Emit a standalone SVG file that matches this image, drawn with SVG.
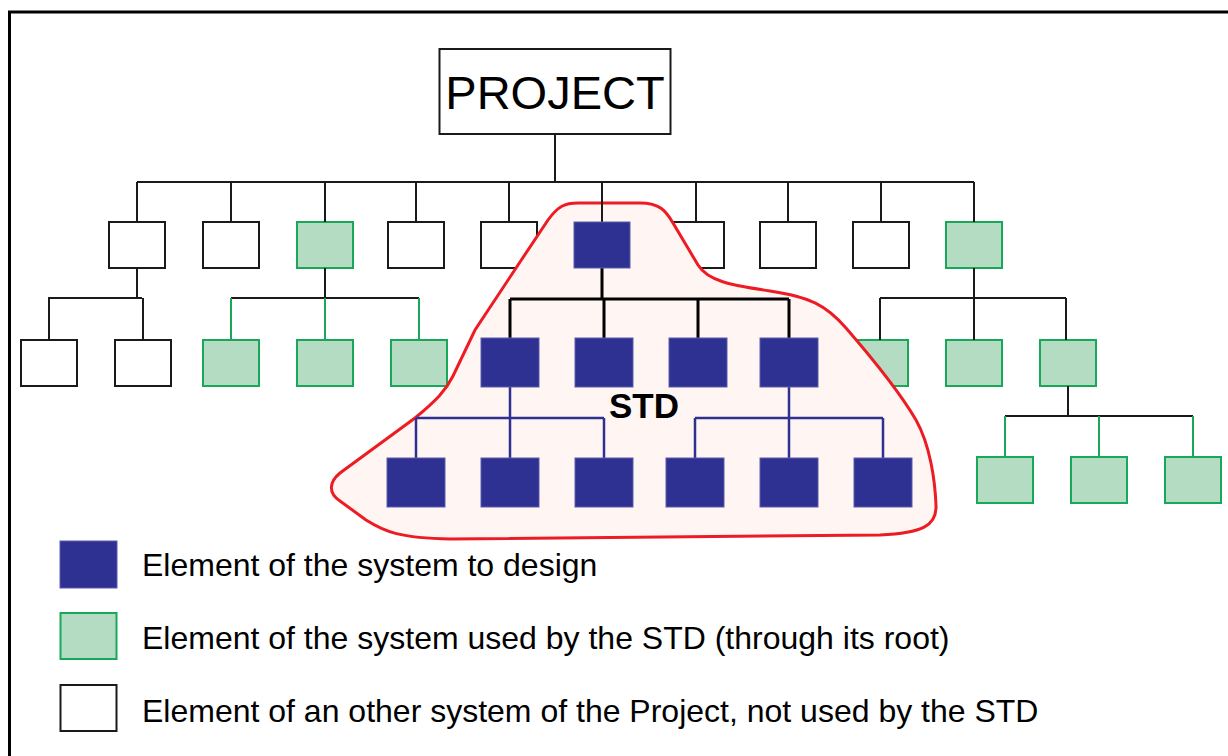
<svg xmlns="http://www.w3.org/2000/svg" width="1228" height="756" viewBox="0 0 1228 756">
  <style>
    .other { fill: #ffffff; stroke: #1a1a1a; stroke-width: 2; }
    .used { fill: #b4dcc2; stroke: #19a85a; stroke-width: 2; }
    .std { fill: #2e3192; stroke: #5a5cab; stroke-width: 1; }
    .wire { fill: none; stroke: #1a1a1a; stroke-width: 2; }
    .wire-thick { fill: none; stroke: #000000; stroke-width: 3; }
    .wire-green { fill: none; stroke: #19a85a; stroke-width: 2; }
    .wire-blue { fill: none; stroke: #2e3192; stroke-width: 2.5; }
    .label { font-family: "Liberation Sans", Arial, sans-serif; fill: #000000; }
  </style>

  <rect width="1228" height="756" fill="#ffffff"/>
  <!-- page frame -->
  <rect x="9.5" y="12" width="1400" height="900" fill="none" stroke="#000000" stroke-width="3"/>

  <!-- root -->
  <g id="project">
    <rect x="439.5" y="49" width="231" height="85" fill="#ffffff" stroke="#1a1a1a" stroke-width="2"/>
    <text class="label" x="555" y="109" font-size="47" text-anchor="middle">PROJECT</text>
  </g>

  <!-- level 1 elements outside the STD -->
  <g id="l1-1"><rect class="other" x="109" y="222" width="56" height="46"/></g>
  <g id="l1-2"><rect class="other" x="203" y="222" width="56" height="46"/></g>
  <g id="l1-3"><rect class="used" x="297" y="222" width="56" height="46"/></g>
  <g id="l1-4"><rect class="other" x="388" y="222" width="56" height="46"/></g>
  <g id="l1-5"><rect class="other" x="481" y="222" width="56" height="46"/></g>
  <g id="l1-7"><rect class="other" x="668" y="222" width="56" height="46"/></g>
  <g id="l1-8"><rect class="other" x="760" y="222" width="56" height="46"/></g>
  <g id="l1-9"><rect class="other" x="853" y="222" width="56" height="46"/></g>
  <g id="l1-10"><rect class="used" x="946" y="222" width="56" height="46"/></g>

  <!-- level 2 elements outside the STD -->
  <g id="l2-1"><rect class="other" x="21" y="340" width="56" height="46"/></g>
  <g id="l2-2"><rect class="other" x="115" y="340" width="56" height="46"/></g>
  <g id="l2-3"><rect class="used" x="203" y="340" width="56" height="46"/></g>
  <g id="l2-4"><rect class="used" x="297" y="340" width="56" height="46"/></g>
  <g id="l2-5"><rect class="used" x="391" y="340" width="56" height="46"/></g>
  <g id="l2-10"><rect class="used" x="852" y="340" width="56" height="46"/></g>
  <g id="l2-11"><rect class="used" x="946" y="340" width="56" height="46"/></g>
  <g id="l2-12"><rect class="used" x="1040" y="340" width="56" height="46"/></g>

  <!-- level 3 elements outside the STD -->
  <g id="l3-7"><rect class="used" x="977" y="457" width="56" height="46"/></g>
  <g id="l3-8"><rect class="used" x="1071" y="457" width="56" height="46"/></g>
  <g id="l3-9"><rect class="used" x="1165" y="457" width="56" height="46"/></g>

  <!-- boundary of the system to design -->
  <g id="std-boundary">
    <path d="M 578,203 L 640,203 C 660,203 666,211 673,223 L 698,265 C 708,281 730,285 770,291 C 810,297 826,305 846,328 C 872,358 902,396 916,420 C 930,445 935,480 936,505 C 937,526 922,533 880,535 L 450,539 C 400,538 385,532 366,520 L 340,501 C 328,493 329,482 340,473 L 415,418 C 437,400 446,390 453,376 L 475,330 L 520,262 L 548,220 C 558,206 565,203 578,203 Z" fill="#fff5f2" stroke="#ed1c24" stroke-width="3"/>
  </g>

  <g id="connectors">
    <!-- root to level 1 -->
    <path class="wire" d="M 555,134 V 182 M 137,182 H 974 M 137,182 V 222 M 231,182 V 222 M 325,182 V 222 M 416,182 V 222 M 509,182 V 222 M 602,182 V 222 M 696,182 V 222 M 788,182 V 222 M 881,182 V 222 M 974,182 V 222"/>
    <!-- other system -->
    <path class="wire" d="M 137,268 V 298 M 48,298 H 142 M 49,298 V 340 M 143,298 V 340"/>
    <!-- used system, left -->
    <path class="wire" d="M 325,268 V 298 M 231,298 H 419"/>
    <path class="wire-green" d="M 231,298 V 340 M 325,298 V 340 M 419,298 V 340"/>
    <!-- used system, right -->
    <path class="wire" d="M 974,268 V 298 M 880,298 H 1066 M 880,298 V 340 M 974,298 V 340 M 1066,298 V 340"/>
    <path class="wire" d="M 1068,386 V 416 M 1005,416 H 1193"/>
    <path class="wire-green" d="M 1005,416 V 457 M 1099,416 V 457 M 1193,416 V 457"/>
    <!-- system to design -->
    <path class="wire-thick" d="M 602,268 V 299 M 510,299 H 789 M 510,299 V 338 M 604,299 V 338 M 698,299 V 338 M 789,299 V 338"/>
    <path class="wire-blue" d="M 510,387 V 418 M 416,418 H 604 M 416,418 V 458 M 510,418 V 458 M 604,418 V 458"/>
    <path class="wire-blue" d="M 789,387 V 418 M 695,418 H 883 M 695,418 V 458 M 789,418 V 458 M 883,418 V 458"/>
  </g>

  <!-- elements of the system to design -->
  <g id="std-root"><rect class="std" x="574" y="222" width="56" height="46"/></g>
  <g id="std-a"><rect class="std" x="481" y="338" width="58" height="49"/></g>
  <g id="std-b"><rect class="std" x="575" y="338" width="58" height="49"/></g>
  <g id="std-c"><rect class="std" x="669" y="338" width="58" height="49"/></g>
  <g id="std-d"><rect class="std" x="760" y="338" width="58" height="49"/></g>
  <g id="std-a1"><rect class="std" x="387" y="458" width="58" height="49"/></g>
  <g id="std-a2"><rect class="std" x="481" y="458" width="58" height="49"/></g>
  <g id="std-a3"><rect class="std" x="575" y="458" width="58" height="49"/></g>
  <g id="std-d1"><rect class="std" x="666" y="458" width="58" height="49"/></g>
  <g id="std-d2"><rect class="std" x="760" y="458" width="58" height="49"/></g>
  <g id="std-d3"><rect class="std" x="854" y="458" width="58" height="49"/></g>

  <text class="label" x="609" y="418" font-size="35" font-weight="bold">STD</text>

  <!-- legend -->
  <g id="legend">
    <rect class="std" x="60" y="541" width="57" height="47"/>
    <text class="label" x="142" y="576" font-size="32">Element of the system to design</text>
    <rect class="used" x="60.5" y="613" width="56" height="46"/>
    <text class="label" x="142" y="649" font-size="32">Element of the system used by the STD (through its root)</text>
    <rect class="other" x="60.5" y="685" width="56" height="46"/>
    <text class="label" x="142" y="722" font-size="32">Element of an other system of the Project, not used by the STD</text>
  </g>
</svg>
